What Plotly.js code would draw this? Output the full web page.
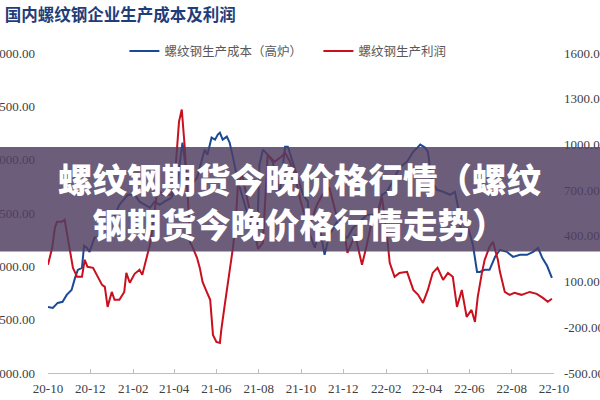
<!DOCTYPE html>
<html>
<head>
<meta charset="utf-8">
<script src="https://cdn.plot.ly/plotly-3.0.1.min.js"></script>
<style>html,body{margin:0;padding:0;background:#fff;}#chart{width:600px;height:400px;}</style>
</head>
<body>
<div id="chart"></div>
<script>
const chartTitle = "国内螺纹钢企业生产成本及利润";
const overlayText = "螺纹钢期货今晚价格行情（螺纹<br>钢期货今晚价格行情走势）";
const costName = "螺纹钢生产成本（高炉）";
const profitName = "螺纹钢生产利润";

const costDates = ["2020-10-01","2020-10-08","2020-10-15","2020-10-22","2020-10-28","2020-11-04","2020-11-09","2020-11-13","2020-11-19","2020-11-22","2020-11-26","2020-11-30","2020-12-07","2020-12-15","2020-12-25","2021-01-01","2021-01-12","2021-01-24","2021-02-03","2021-02-10","2021-02-18","2021-02-25","2021-03-04","2021-03-11","2021-03-18","2021-03-28","2021-04-05","2021-04-09","2021-04-13","2021-04-19","2021-04-26","2021-05-04","2021-05-11","2021-05-15","2021-05-19","2021-05-25","2021-05-30","2021-06-03","2021-06-06","2021-06-10","2021-06-16","2021-06-20","2021-06-25","2021-07-02","2021-07-09","2021-07-15","2021-07-19","2021-07-25","2021-07-30","2021-08-02","2021-08-07","2021-08-14","2021-08-21","2021-08-27","2021-08-31","2021-09-08","2021-09-12","2021-09-19","2021-09-26","2021-10-04","2021-10-11","2021-10-14","2021-10-21","2021-10-28","2021-11-04","2021-11-11","2021-11-22","2021-11-30","2021-12-07","2021-12-15","2021-12-25","2022-01-04","2022-01-13","2022-01-20","2022-01-26","2022-02-02","2022-02-10","2022-02-20","2022-03-03","2022-03-12","2022-03-18","2022-03-22","2022-03-29","2022-04-02","2022-04-08","2022-04-15","2022-04-24","2022-05-04","2022-05-11","2022-05-15","2022-05-21","2022-05-30","2022-06-06","2022-06-12","2022-06-16","2022-06-23","2022-06-30","2022-07-08","2022-07-15","2022-07-25","2022-08-03","2022-08-13","2022-08-23","2022-09-01","2022-09-08","2022-09-14","2022-09-21","2022-09-28"];
const costValues = [3620,3610,3657,3667,3732,3779,3892,3967,3986,4192,4174,4136,4268,4277,4268,4418,4577,4671,4671,4606,4577,4549,4606,4577,4606,4643,4765,4953,5160,4859,4765,4831,5000,5094,5047,5207,5188,5235,5253,5188,5216,5160,5019,4793,4643,4512,4390,4250,4330,4950,5094,5047,4981,4831,4671,5122,5122,4981,4831,4671,4606,4296,4174,4362,4108,4296,4418,4296,4268,4362,4418,4484,4484,4512,4671,4699,4793,4925,4981,5075,5113,5141,5113,5075,4793,4718,4699,4671,4699,4577,4268,4362,4202,3948,3948,3967,3967,4089,4155,4136,4089,4108,4108,4136,4174,4080,4005,3892];

const profitDates = ["2020-10-01","2020-10-07","2020-10-11","2020-10-14","2020-10-21","2020-10-25","2020-10-28","2020-11-01","2020-11-06","2020-11-12","2020-11-19","2020-11-23","2020-11-27","2020-12-05","2020-12-12","2020-12-18","2020-12-22","2020-12-26","2021-01-01","2021-01-05","2021-01-12","2021-01-19","2021-01-22","2021-01-27","2021-02-03","2021-02-10","2021-02-14","2021-02-20","2021-02-25","2021-03-01","2021-03-07","2021-03-08","2021-03-15","2021-03-23","2021-03-28","2021-04-02","2021-04-06","2021-04-08","2021-04-12","2021-04-16","2021-04-21","2021-04-24","2021-04-26","2021-05-01","2021-05-04","2021-05-08","2021-05-12","2021-05-18","2021-05-23","2021-05-27","2021-06-01","2021-06-06","2021-06-08","2021-06-13","2021-06-17","2021-06-20","2021-06-25","2021-06-29","2021-07-02","2021-07-08","2021-07-16","2021-07-24","2021-07-31","2021-08-07","2021-08-10","2021-08-14","2021-08-24","2021-09-03","2021-09-08","2021-09-15","2021-09-22","2021-09-30","2021-10-06","2021-10-14","2021-10-24","2021-11-01","2021-11-11","2021-11-22","2021-11-30","2021-12-07","2021-12-18","2021-12-28","2022-01-04","2022-01-11","2022-01-18","2022-01-26","2022-02-02","2022-02-06","2022-02-13","2022-02-20","2022-03-03","2022-03-12","2022-03-19","2022-03-26","2022-04-02","2022-04-09","2022-04-16","2022-04-24","2022-05-01","2022-05-08","2022-05-14","2022-05-21","2022-05-28","2022-06-04","2022-06-09","2022-06-13","2022-06-19","2022-06-23","2022-06-30","2022-07-05","2022-07-12","2022-07-15","2022-07-22","2022-07-29","2022-08-05","2022-08-15","2022-08-27","2022-09-06","2022-09-15","2022-09-22","2022-09-28"];
const profitValues = [210,322,453,492,492,506,427,322,190,131,131,243,197,190,131,78,65,-66,32,-20,-20,32,157,92,151,177,144,256,342,453,670,716,670,670,670,782,998,1150,1229,998,624,354,342,289,256,190,98,32,-20,-250,-296,-303,-217,-53,78,197,328,506,736,802,637,473,315,354,637,933,887,920,946,887,802,637,539,473,604,670,716,519,492,289,407,210,342,492,519,650,407,223,131,157,164,45,13,-40,45,157,190,111,157,131,-66,45,-132,-86,-165,0,157,243,328,361,243,164,32,13,26,13,32,19,-7,-33,-13];

const xTickVals = ["2020-10-01","2020-12-01","2021-02-01","2021-04-01","2021-06-01","2021-08-01","2021-10-01","2021-12-01","2022-02-01","2022-04-01","2022-06-01","2022-08-01","2022-10-01"];
const xTickLabels = ["20-10","20-12","21-02","21-04","21-06","21-08","21-10","21-12","22-02","22-04","22-06","22-08","22-10"];
const leftTickVals = [3000,3500,4000,4500,5000,5500,6000];
const leftTickLabels = ["3000.00","3500.00","4000.00","4500.00","5000.00","5500.00","6000.00"];
const rightTickVals = [-500,-200,100,400,700,1000,1300,1600];
const rightTickLabels = ["-500.00","-200.00","100.00","400.00","700.00","1000.00","1300.00","1600.00"];

const serif = "'Liberation Serif','Times New Roman',serif";
const cjk = "'Noto Sans CJK SC','Noto Sans',sans-serif";

const traces = [
  {x: costDates, y: costValues, name: costName, type: "scatter", mode: "lines",
   line: {color: "#1b4a94", width: 2}, yaxis: "y"},
  {x: profitDates, y: profitValues, name: profitName, type: "scatter", mode: "lines",
   line: {color: "#c8101e", width: 2}, yaxis: "y2"}
];

const layout = {
  width: 600, height: 400,
  paper_bgcolor: "#ffffff", plot_bgcolor: "#ffffff",
  margin: {l: 48, r: 46, t: 53, b: 27, autoexpand: false},
  title: {text: chartTitle, x: 0.008, xref: "container", xanchor: "left",
          y: 0.962, yref: "container", yanchor: "middle",
          font: {family: cjk, size: 16.5, color: "#1f3d7a", weight: "bold"}},
  showlegend: true,
  legend: {orientation: "h", x: 0.151, xanchor: "left", y: 1.005, yanchor: "middle",
           font: {family: cjk, size: 12.5, color: "#595959"},
           entrywidth: 149, entrywidthmode: "pixels",
           bgcolor: "rgba(0,0,0,0)", itemwidth: 30, tracegroupgap: 0},
  xaxis: {type: "date", range: ["2020-10-01", "2022-10-01"],
          tickmode: "array", tickvals: xTickVals, ticktext: xTickLabels,
          showgrid: false, zeroline: false, showline: true, linecolor: "#bfbfbf", linewidth: 1,
          ticks: "inside", ticklen: 4, tickcolor: "#bfbfbf", ticklabelstandoff: 3,
          tickfont: {family: serif, size: 13, color: "#404040"}, automargin: false},
  yaxis: {range: [3000, 6000], tickmode: "array", tickvals: leftTickVals, ticktext: leftTickLabels,
          showgrid: false, zeroline: false, showline: false, ticks: "",
          ticklabelstandoff: 12,
          tickfont: {family: serif, size: 13, color: "#404040"}, automargin: false},
  yaxis2: {range: [-500, 1600], overlaying: "y", side: "right",
           tickmode: "array", tickvals: rightTickVals, ticktext: rightTickLabels,
           showgrid: false, zeroline: false, showline: false, ticks: "",
           ticklabelstandoff: 9,
           tickfont: {family: serif, size: 13, color: "#404040"}, automargin: false},
  shapes: [{type: "rect", xref: "paper", yref: "paper", x0: -0.1, x1: 1.1, y0: 0.380, y1: 0.706,
            fillcolor: "rgba(80,62,98,0.84)", line: {width: 0}, layer: "above"}],
  annotations: [{text: overlayText, xref: "paper", yref: "paper", x: 0.498, y: 0.54,
                 xanchor: "center", yanchor: "middle", showarrow: false, align: "center",
                 font: {family: cjk, size: 34.5, color: "#ffffff", weight: 900}}]
};

Plotly.newPlot("chart", traces, layout, {displayModeBar: false, staticPlot: true});
</script>
</body>
</html>
